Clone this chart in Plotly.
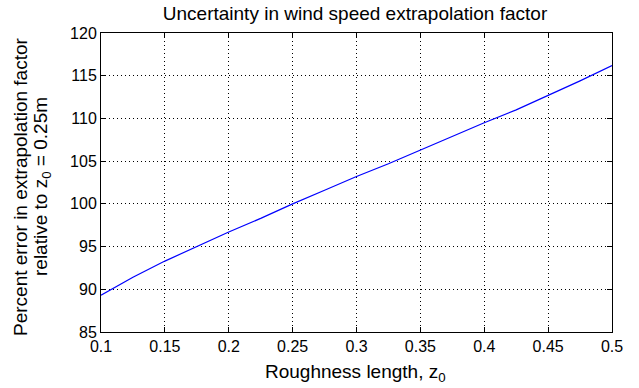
import plotly.graph_objects as go

roughness = [0.1, 0.125, 0.15, 0.175, 0.2, 0.225, 0.25, 0.275, 0.3, 0.325,
             0.35, 0.375, 0.4, 0.425, 0.45, 0.475, 0.5]
pct_error = [89.3, 91.4, 93.3, 95.0, 96.7, 98.3, 100.0, 101.6, 103.2, 104.7,
             106.3, 107.9, 109.5, 111.0, 112.7, 114.4, 116.2]
x_ticks = [0.1, 0.15, 0.2, 0.25, 0.3, 0.35, 0.4, 0.45, 0.5]
x_labels = ["0.1", "0.15", "0.2", "0.25", "0.3", "0.35", "0.4", "0.45", "0.5"]
y_ticks = [85, 90, 95, 100, 105, 110, 115, 120]

font = "Liberation Sans, Arial, sans-serif"
W, H = 639, 388
L, R, T, B = 101, 27, 33, 56
pw, ph = W - L - R, H - T - B

def px_x(px):
    return (px - L) / pw

def px_y(py):
    return (H - B - py) / ph

fig = go.Figure()
fig.add_trace(go.Scatter(x=roughness, y=pct_error, mode="lines",
                         line=dict(color="#0000ff", width=1.2)))

axis_common = dict(
    showline=True, linecolor="black", linewidth=1, mirror="ticks",
    ticks="inside", ticklen=5, tickcolor="black",
    showgrid=True, gridcolor="black", gridwidth=1, griddash="1px,3px",
    zeroline=False, tickfont=dict(family=font, size=16, color="black"),
)

lab_font = dict(family=font, size=19, color="black")

fig.update_layout(
    width=W, height=H,
    margin=dict(l=L, r=R, t=T, b=B),
    paper_bgcolor="white", plot_bgcolor="white",
    showlegend=False,
    title=dict(text="Uncertainty in wind speed extrapolation factor",
               x=355 / W, xanchor="center", y=1 - 13 / H, yanchor="middle",
               font=lab_font),
    xaxis=dict(range=[0.1, 0.5], tickvals=x_ticks, ticktext=x_labels, **axis_common),
    yaxis=dict(range=[85, 120], tickvals=y_ticks, **axis_common),
    annotations=[
        dict(text="Roughness length, z<sub>0</sub>", xref="paper", yref="paper",
             x=px_x(355), y=px_y(373), xanchor="center", yanchor="middle",
             showarrow=False, font=lab_font),
        dict(text="Percent error in extrapolation factor", xref="paper", yref="paper",
             x=px_x(20), y=px_y(187), xanchor="center", yanchor="middle",
             textangle=-90, showarrow=False, font=lab_font),
        dict(text="relative to z<sub>0</sub> = 0.25m", xref="paper", yref="paper",
             x=px_x(42), y=px_y(187), xanchor="center", yanchor="middle",
             textangle=-90, showarrow=False, font=lab_font),
    ],
)

fig.write_html("out.html")
